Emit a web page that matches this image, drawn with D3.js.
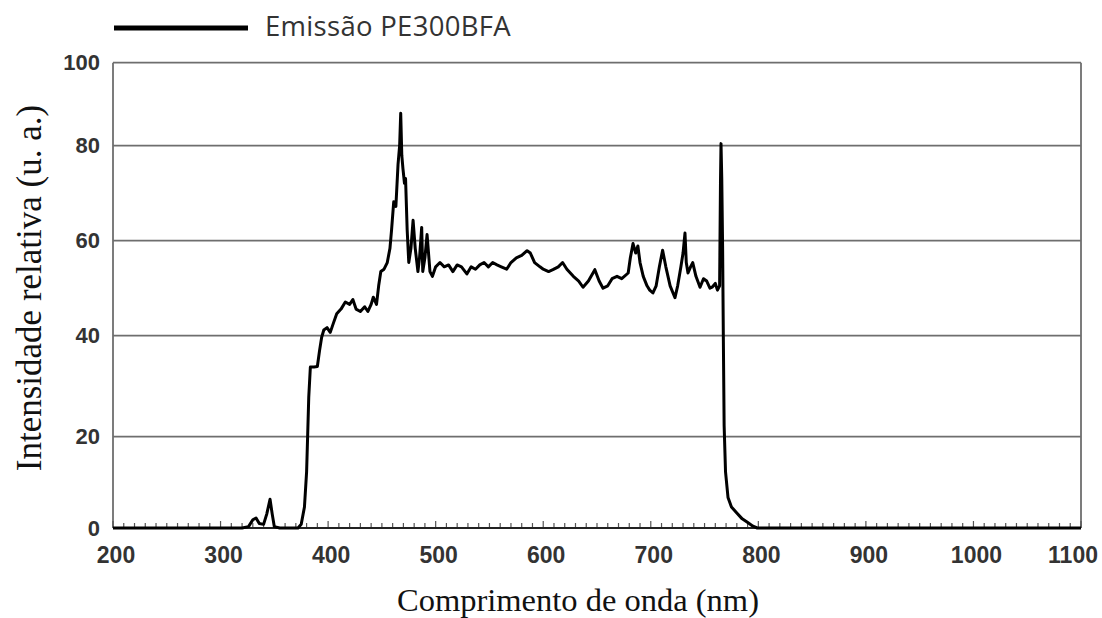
<!DOCTYPE html>
<html>
<head>
<meta charset="utf-8">
<script src="https://cdn.jsdelivr.net/npm/d3@7"></script>
<style>
  html, body { margin: 0; padding: 0; background: #fff; }
  svg { display: block; }
</style>
</head>
<body>
<svg id="chart" width="1102" height="618"></svg>
<script>
// ---- data ----
const seriesName = "Emissão PE300BFA";
const wavelengths = [200,320,326,330,333,336,340,343,346,348,350,355,372,375,378,380,381,382,383.5,387,390,392,394,396,399,402,405,408,412,416,420,423,426,430,434,437,440,442,445,447,449,452,455,457.5,459,461,463,465,466.5,467.5,468.5,469.6,471,472,473.5,475,477,479,481,483.5,485,487,488,490,492,494.7,497,500,504,508,512,516,520,524,529,533,537,541,545,549,553,557,561,566,570,575,580,585,588,592,597,600,605,609,614,618,622,628,633,637,642,648,652,655.6,660,664,668.6,673,679,681,683.5,686,688,690,693,696.5,699,702,705,708,711,714,718,722.5,725,728,730,731.8,733,734.6,737,739,742,745.8,749,752,755,757,760,762,764,764.8,765.3,766,766.8,767.5,768.2,769.5,771.8,775,780,785,789.5,795,799,1100];
const intensity   = [0,0,0.3,1.8,2.2,1,0.8,3.1,6.3,3.1,0.3,0,0,0.8,4.6,12.3,20.4,27.8,33.8,33.8,33.9,37,39.7,41.2,41.7,40.7,42.7,44.6,45.6,47.1,46.6,47.6,45.6,45.1,46.1,45.1,46.6,48.1,46.6,50.5,53.5,54,55.4,58.4,62.3,68.2,67.2,76,80,87.8,78,75.1,72.1,73.1,62.3,55.4,58.4,64.3,58.4,53.5,56.4,62.8,53.5,56.4,61.3,53.5,52.5,54.5,55.4,54.5,54.9,53.5,54.9,54.5,53,54.5,54,54.9,55.4,54.5,55.4,54.9,54.5,54,55.4,56.4,56.9,57.9,57.4,55.4,54.5,54,53.5,53.9,54.5,55.4,54,52.5,51.5,50.2,51.5,53.9,51.5,50,50.5,52,52.5,52,53.2,56.4,59.4,57.4,58.9,55.4,52.5,50.5,49.6,49,50.5,54.5,58,54.5,50.5,48,50.5,54.5,57.4,61.6,55.4,53.2,54.5,55.4,52.5,50.2,52,51.5,50,50.2,51,49.6,50.5,72.1,80.5,73.1,58.4,38.8,22.2,12.3,6.7,4.6,3.3,2,1.3,0.4,0,0];
const xTicks = [200,300,400,500,600,700,800,900,1000,1100];
const yTicks = [0,20,40,60,80,100];
const xLabel = "Comprimento de onda (nm)";
const yLabel = "Intensidade relativa (u. a.)";

// ---- layout ----
const svg = d3.select("#chart");
const L = 113, R = 1081, B = 528;
const x = d3.scaleLinear().domain([200,1100]).range([L,R]);
// the source figure's gridlines are not evenly spaced; follow them piecewise
const y = d3.scaleLinear().domain(yTicks).range([528,436.7,335.7,240.7,145.7,62.7]);
const T = y(100);

// gridlines
svg.append("g").selectAll("line").data(yTicks.filter(d => d > 0)).join("line")
  .attr("x1", L).attr("x2", R)
  .attr("y1", d => y(d)).attr("y2", d => y(d))
  .attr("stroke", "#6e6e6e").attr("stroke-width", 1.8);

// left & right borders
svg.append("line").attr("x1", L).attr("x2", L).attr("y1", T).attr("y2", B)
  .attr("stroke", "#6e6e6e").attr("stroke-width", 1.8);
svg.append("line").attr("x1", R).attr("x2", R).attr("y1", T).attr("y2", B)
  .attr("stroke", "#6e6e6e").attr("stroke-width", 1.8);

// minor ticks on x axis
const minor = d3.range(200, 1101, 10);
svg.append("g").selectAll("line").data(minor).join("line")
  .attr("x1", d => x(d)).attr("x2", d => x(d))
  .attr("y1", B).attr("y2", d => B - (d % 100 === 0 ? 7 : 5))
  .attr("stroke", "#555").attr("stroke-width", 1.2);

// bottom axis line
svg.append("line").attr("x1", L).attr("x2", R).attr("y1", B).attr("y2", B)
  .attr("stroke", "#222").attr("stroke-width", 2);

// y tick labels
svg.append("g").selectAll("text").data(yTicks).join("text")
  .attr("x", 100).attr("y", d => y(d) + 7.5)
  .attr("text-anchor", "end")
  .attr("font-family", "Liberation Sans, Arial, sans-serif")
  .attr("font-weight", "bold").attr("font-size", 22)
  .attr("fill", "#333")
  .text(d => d);

// x tick labels
svg.append("g").selectAll("text").data(xTicks).join("text")
  .attr("x", d => d === 1100 ? 1098 : x(d) + 3).attr("y", 563)
  .attr("text-anchor", d => d === 1100 ? "end" : "middle")
  .attr("font-family", "Liberation Sans, Arial, sans-serif")
  .attr("font-weight", "bold").attr("font-size", 23)
  .attr("fill", "#333")
  .text(d => d);

// data line
const line = d3.line().x((d,i) => x(wavelengths[i])).y(d => y(d));
svg.append("path").datum(intensity)
  .attr("d", line)
  .attr("fill", "none").attr("stroke", "#000")
  .attr("stroke-width", 3).attr("stroke-linejoin", "round");

// axis titles
svg.append("text").attr("x", 578).attr("y", 611)
  .attr("text-anchor", "middle")
  .attr("font-family", "Liberation Serif, 'Times New Roman', serif")
  .attr("font-size", 32.5).attr("fill", "#111")
  .text(xLabel);
svg.append("text")
  .attr("transform", "translate(41,288) rotate(-90)")
  .attr("text-anchor", "middle")
  .attr("font-family", "Liberation Serif, 'Times New Roman', serif")
  .attr("font-size", 35).attr("fill", "#111")
  .text(yLabel);

// legend
svg.append("line").attr("x1", 114).attr("x2", 248).attr("y1", 28).attr("y2", 28)
  .attr("stroke", "#000").attr("stroke-width", 5);
svg.append("text").attr("x", 265).attr("y", 36)
  .attr("font-family", "'Open Sans', sans-serif")
  .attr("font-size", 27.5).attr("letter-spacing", 0.3).attr("fill", "#333")
  .text(seriesName);
</script>
</body>
</html>
